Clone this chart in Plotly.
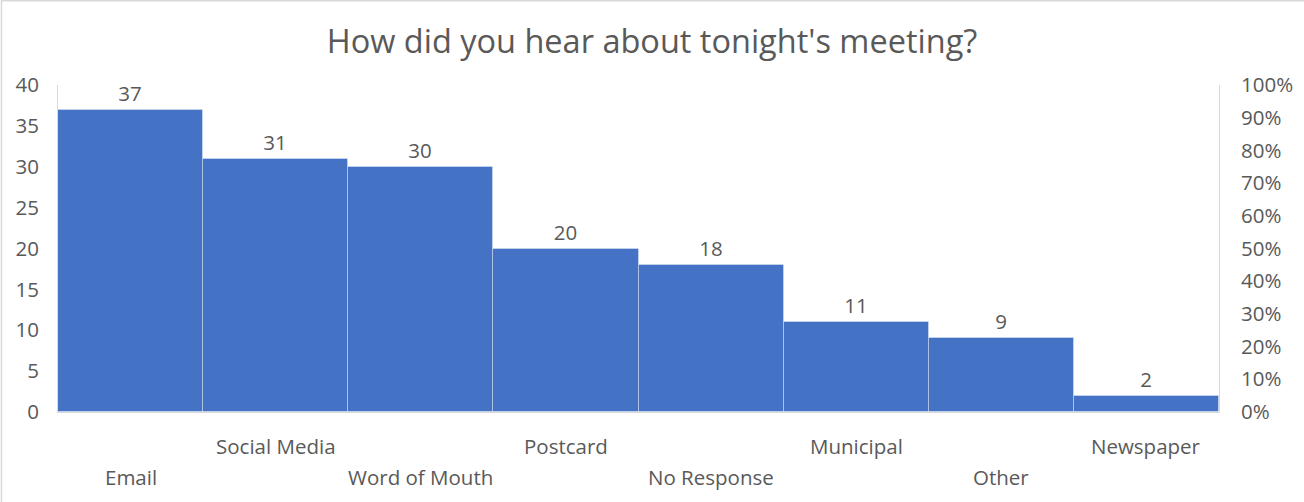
import plotly.graph_objects as go

categories = ["Email", "Social Media", "Word of Mouth", "Postcard", "No Response", "Municipal", "Other", "Newspaper"]
counts = [37, 31, 30, 20, 18, 11, 9, 2]
left_ticks = [0, 5, 10, 15, 20, 25, 30, 35, 40]
right_ticks = [0, 0.1, 0.2, 0.3, 0.4, 0.5, 0.6, 0.7, 0.8, 0.9, 1.0]

FONT = "Open Sans"
GREY = "#595959"
BLUE = "#4472C4"
TICK = 20.5

fig = go.Figure()
fig.add_trace(go.Bar(
    x=categories, y=counts, text=counts, textposition="outside",
    textfont=dict(family=FONT, size=TICK, color=GREY),
    marker=dict(color=BLUE, line=dict(color="rgba(255,255,255,0.35)", width=1)),
    cliponaxis=False, showlegend=False, hoverinfo="x+y",
))
# invisible trace to carry the secondary axis
fig.add_trace(go.Scatter(x=[categories[0]], y=[0], yaxis="y2", mode="markers",
                         marker=dict(opacity=0), showlegend=False, hoverinfo="skip"))

annotations = []
for i, c in enumerate(categories):
    annotations.append(dict(
        x=c, xref="x", y=0, yref="paper", yanchor="middle", showarrow=False,
        yshift=-34 if i % 2 == 1 else -65, text=c,
        font=dict(family=FONT, size=TICK, color=GREY),
    ))

fig.update_layout(
    width=1304, height=502,
    margin=dict(l=58, r=85, t=85, b=90),
    paper_bgcolor="white", plot_bgcolor="white",
    bargap=0,
    title=dict(text="How did you hear about tonight's meeting?", x=0.5, xanchor="center",
               y=0.917, yanchor="middle", font=dict(family=FONT, size=32.5, color=GREY)),
    xaxis=dict(showticklabels=False, showline=True, linecolor="#D9D9D9", linewidth=1,
               ticks="", showgrid=False, zeroline=False),
    yaxis=dict(range=[0, 40], tickvals=left_ticks, showgrid=False, zeroline=False,
               showline=True, linecolor="#D9D9D9", linewidth=1, ticks="",
               ticklabelstandoff=14,
               tickfont=dict(family=FONT, size=TICK, color=GREY)),
    yaxis2=dict(range=[0, 1], tickvals=right_ticks, tickformat=".0%", overlaying="y",
                side="right", showgrid=False, zeroline=False, showline=True,
                linecolor="#D9D9D9", linewidth=1, ticks="", ticklabelstandoff=17,
                tickfont=dict(family=FONT, size=TICK, color=GREY)),
    annotations=annotations,
    shapes=[dict(type="rect", xref="paper", yref="paper", x0=-0.0487, x1=1.1,
                 y0=-0.4, y1=1.258, line=dict(color="#D9D9D9", width=1.5))],
)

fig.write_html("out.html", config={"displayModeBar": False})
with open("out.html", encoding="utf-8") as f:
    html = f.read()
html = html.replace("<head>", "<head><style>html,body{margin:0;padding:0;overflow:hidden}</style>", 1)
with open("out.html", "w", encoding="utf-8") as f:
    f.write(html)
